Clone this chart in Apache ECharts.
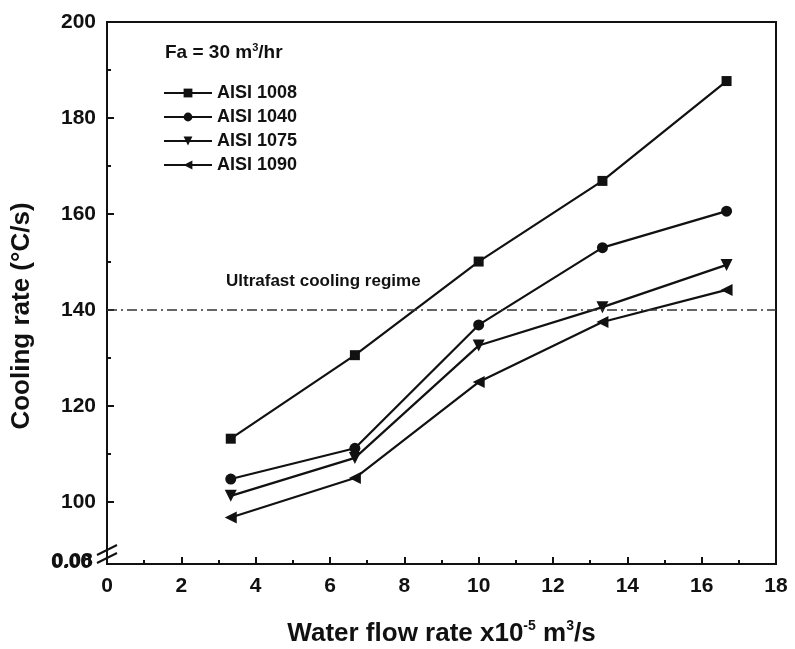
<!DOCTYPE html>
<html>
<head>
<meta charset="utf-8">
<script src="https://cdn.jsdelivr.net/npm/echarts@6/dist/echarts.min.js"></script>
<style>
  html, body { margin: 0; padding: 0; background: #fff; }
  #chart { width: 795px; height: 649px; }
</style>
</head>
<body>
<div id="chart"></div>
<script>
// water flow rate (x10^-5 m3/s)
let flowRates = [3.33, 6.67, 10, 13.33, 16.67];
let seriesNames = ['AISI 1008', 'AISI 1040', 'AISI 1075', 'AISI 1090'];
let aisi1008 = [113.2, 130.6, 150.1, 166.9, 187.7];
let aisi1040 = [104.8, 111.2, 136.9, 153.0, 160.6];
let aisi1075 = [101.3, 109.2, 132.6, 140.6, 149.4];
let aisi1090 = [96.8, 105.0, 125.0, 137.5, 144.2];
let yLabels = [100, 120, 140, 160, 180, 200];
let yMinorTicks = [110, 130, 150, 170, 190];
let ultrafastLimit = 140;

let font = '"Liberation Sans", Arial, sans-serif';
let ink = '#111';

function pairs(values) {
    return flowRates.map(function (x, i) { return [x, values[i]]; });
}

function lineSeries(name, values, symbol, size, rotate) {
    return {
        name: name,
        type: 'line',
        data: pairs(values),
        symbol: symbol,
        symbolSize: size,
        symbolRotate: rotate,
        lineStyle: { color: ink, width: 2.2 },
        itemStyle: { color: ink },
        z: 3
    };
}

let chart = echarts.init(document.getElementById('chart'));

let series = [
    lineSeries(seriesNames[0], aisi1008, 'rect', 10, 0),
    lineSeries(seriesNames[1], aisi1040, 'circle', 11, 0),
    lineSeries(seriesNames[2], aisi1075, 'triangle', 12, 180),
    lineSeries(seriesNames[3], aisi1090, 'triangle', 12, 90)
];
series[0].markLine = {
    silent: true,
    symbol: 'none',
    label: { show: false },
    lineStyle: { color: '#333', width: 1.5, type: [10, 4, 2, 4] },
    data: [{ yAxis: ultrafastLimit }]
};

chart.setOption({
    animation: false,
    backgroundColor: '#fff',
    textStyle: { fontFamily: font },
    title: [{
        text: 'Fa = 30 m{sup|3}/hr',
        left: 160,
        top: 37,
        textStyle: {
            fontFamily: font, fontWeight: 'bold', fontSize: 19, color: ink,
            rich: { sup: { fontFamily: font, fontWeight: 'bold', fontSize: 11, color: ink, verticalAlign: 'top', padding: [0, 0, 11, 0] } }
        }
    }, {
        text: 'Ultrafast cooling regime',
        left: 221,
        top: 268,
        textStyle: { fontFamily: font, fontWeight: 'bold', fontSize: 17, color: ink }
    }],
    legend: {
        data: seriesNames,
        orient: 'vertical',
        left: 158,
        top: 79,
        itemWidth: 48,
        itemHeight: 11,
        itemGap: 6,
        textStyle: { fontFamily: font, fontWeight: 'bold', fontSize: 18, color: ink }
    },
    grid: {
        left: 107,
        right: 19,
        top: 22,
        bottom: 85,
        outerBoundsMode: 'none',
        show: true,
        borderColor: ink,
        borderWidth: 2
    },
    xAxis: {
        type: 'value',
        min: 0,
        max: 18,
        interval: 2,
        name: 'Water flow rate x10{sup|-5} m{sup|3}/s',
        nameLocation: 'middle',
        nameGap: 55,
        nameTextStyle: {
            fontFamily: font, fontWeight: 'bold', fontSize: 26, color: ink,
            rich: { sup: { fontFamily: font, fontWeight: 'bold', fontSize: 14, color: ink, verticalAlign: 'top', padding: [0, 0, 15, 0] } }
        },
        axisLine: { lineStyle: { color: ink, width: 2 } },
        axisTick: { inside: true, length: 7, lineStyle: { color: ink, width: 2 } },
        minorTick: { show: true, splitNumber: 2, length: 4, lineStyle: { color: ink, width: 2 } },
        splitLine: { show: false },
        axisLabel: { margin: 12, fontFamily: font, fontWeight: 'bold', fontSize: 21, color: ink }
    },
    yAxis: [{
        type: 'value',
        min: 87.1,
        max: 200,
        name: 'Cooling rate (°C/s)',
        nameLocation: 'middle',
        nameGap: 72,
        nameTextStyle: { fontFamily: font, fontWeight: 'bold', fontSize: 26, color: ink, padding: [0, 46, 0, 0] },
        axisLine: { lineStyle: { color: ink, width: 2 } },
        axisTick: { inside: true, length: 7, customValues: yLabels, lineStyle: { color: ink, width: 2 } },
        splitLine: { show: false },
        axisLabel: { margin: 11, customValues: yLabels, fontFamily: font, fontWeight: 'bold', fontSize: 21, color: ink }
    }, {
        type: 'value',
        position: 'left',
        min: 87.1,
        max: 200,
        axisLine: { show: false },
        axisTick: { inside: true, length: 4, customValues: yMinorTicks, lineStyle: { color: ink, width: 2 } },
        axisLabel: { show: false, customValues: yMinorTicks },
        splitLine: { show: false }
    }],
    graphic: [
        // axis break marks and the squeezed lower labels
        { type: 'line', shape: { x1: 97, y1: 555, x2: 117, y2: 545 }, style: { stroke: ink, lineWidth: 2 } },
        { type: 'line', shape: { x1: 97, y1: 563, x2: 117, y2: 553 }, style: { stroke: ink, lineWidth: 2 } },
        { type: 'text', left: 52, top: 551, style: { text: '0.08', font: 'bold 21px ' + font, fill: ink } },
        { type: 'text', left: 51, top: 552, style: { text: '0.00', font: 'bold 21px ' + font, fill: ink } }
    ],
    series: series
});
</script>
</body>
</html>
